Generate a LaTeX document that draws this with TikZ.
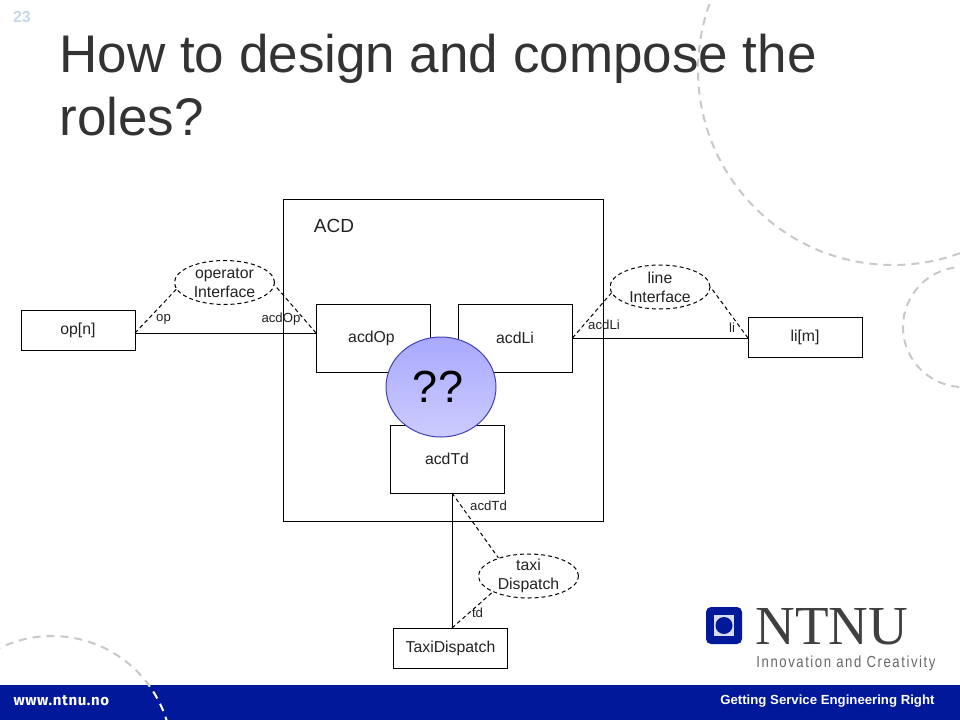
\documentclass[tikz,border=0pt]{standalone}
\usepackage{fontspec}
\usepackage{xcolor}
\setmainfont{Liberation Sans}
\newfontfamily\serifname{Liberation Serif}
\newfontfamily\slogan[LetterSpace=12]{Liberation Sans}
\newfontfamily\webname[LetterSpace=4]{Fira Sans}
\usetikzlibrary{shapes.geometric}
\definecolor{ntnublue}{HTML}{00189A}
\definecolor{circlegrey}{HTML}{C8C8C8}
\definecolor{titlegrey}{HTML}{333333}
\definecolor{labelgrey}{HTML}{222222}
\definecolor{numblue}{HTML}{C8D8E8}
\definecolor{askrim}{HTML}{4040B0}

\begin{document}
\begin{tikzpicture}[x=1pt, y=-1pt, line width=1pt,
    txt/.style={font=\fontsize{15.8}{19}\selectfont, text=labelgrey, inner sep=0pt, align=center},
    small/.style={font=\fontsize{13.2}{15}\selectfont, text=labelgrey, inner sep=0pt},
    part/.style={draw, rectangle, minimum width=114pt, minimum height=68pt, txt},
    env/.style={draw, rectangle, minimum width=114pt, minimum height=40pt, txt},
    role/.style={draw, dash pattern=on 4pt off 3pt, ellipse, minimum width=100pt, minimum height=44pt, txt, inner ysep=-3pt},
    tie/.style={dash pattern=on 4pt off 3pt},
    title/.style={font=\fontsize{53}{63}\selectfont, text=titlegrey, anchor=base west, inner sep=0pt},
    deco/.style={circlegrey, line width=2pt, dash pattern=on 8pt off 6pt}]
    \useasboundingbox (0,0) rectangle (960,720);

    % background circles
    \begin{scope}
        \clip (0,0) rectangle (960,685);
        \draw[deco] (893,70) circle (195);
        \draw[deco] (963,327) circle (60);
        \draw[deco] (52,756) circle (120);
    \end{scope}

    % footer
    \fill[ntnublue] (0,685) rectangle (960,720);
    \begin{scope}
        \clip (0,685) rectangle (960,720);
        \draw[deco, white] (52,756) circle (120);
    \end{scope}
    \node[anchor=west, inner sep=0pt, text=white, font=\fontsize{15}{18}\bfseries\webname] (web) at (13,701) {www.ntnu.no};
    \node[anchor=east, inner sep=0pt, text=white, font=\fontsize{13.2}{15}\selectfont\bfseries] (motto) at (935,701) {Getting Service Engineering Right};

    % logo
    \fill[ntnublue, rounded corners=5pt] (706,607) rectangle (742,644);
    \fill[white!85!ntnublue] (714,615) rectangle (734,636);
    \fill[ntnublue] (724,625.5) circle (8.5);
    \node[anchor=base west, inner sep=0pt, text=black!75, font=\fontsize{55}{58}\serifname] (logo) at (755,644.5) {NTNU};
    \node[anchor=base west, inner sep=0pt, text=black!60, xscale=0.82, font=\fontsize{16}{18}\slogan] (slogan) at (756,667) {Innovation and Creativity};

    % title
    \node[text=numblue, font=\fontsize{16}{18}\selectfont\bfseries, inner sep=0pt] (num) at (22,17) {23};
    \node[title] (line1) at (59,72) {How to design and compose the};
    \node[title] (line2) at (59,135) {roles?};

    % the composition
    \node[draw, rectangle, minimum width=320pt, minimum height=322pt] (acd) at (443,360) {};
    \node[txt, font=\fontsize{19}{22}\selectfont] (acdname) at (334,226) {ACD};
    \node[part, text width=110pt] (acdop) at (373,338) {\hspace{-3pt}acdOp};
    \node[part] (acdli) at (515,338) {acdLi};
    \node[part] (acdtd) at (447,459) {acdTd};
    \node[env] (opn) at (78,330) {op[n]};
    \node[env] (lim) at (805,337) {li[m]};
    \node[env] (taxi) at (450.5,648) {TaxiDispatch};

    \coordinate (opout) at (135,333);
    \coordinate (opin) at (316,333);
    \coordinate (liin) at (572.5,338);
    \coordinate (liout) at (748,338);
    \coordinate (tdin) at (452,493);
    \coordinate (tdout) at (452,628);
    \draw (opout) -- (opin);
    \draw (liin) -- (liout);
    \draw (tdin) -- (tdout);

    \node[role] (opif) at (224.5,282.5) {operator\\Interface};
    \node[role] (liif) at (660,287) {line\\Interface};
    \node[role] (tdif) at (528.5,576) {taxi\\Dispatch};

    \draw[tie] (opout) -- (opif.188);
    \draw[tie] (opin) -- (opif.-3);
    \draw[tie] (liin) -- (liif.187);
    \draw[tie] (liout) -- (liif.0);
    \draw[tie] (tdin) -- (tdif.149);
    \draw[tie] (tdout) -- (tdif.204);

    \node[small] (oplbl) at (163.5,319) {op};
    \node[small] (acdoplbl) at (281,319.5) {acdOp};
    \node[small] (acdlilbl) at (604,325) {acdLi};
    \node[small] (lilbl) at (732,328) {li};
    \node[small] (acdtdlbl) at (488.5,506) {acdTd};
    \node[small] (tdlbl) at (477.5,612.5) {td};

    % the open question
    \node[draw=askrim, ellipse, line width=1pt, minimum width=110pt, minimum height=100pt,
        top color=blue!34!white, bottom color=blue!20!white, inner sep=0pt] (ask) at (441,387) {};
    \node[inner sep=0pt, text=black, font=\fontsize{45}{48}\selectfont] (asktxt) at (438,387) {??};
\end{tikzpicture}
\end{document}
